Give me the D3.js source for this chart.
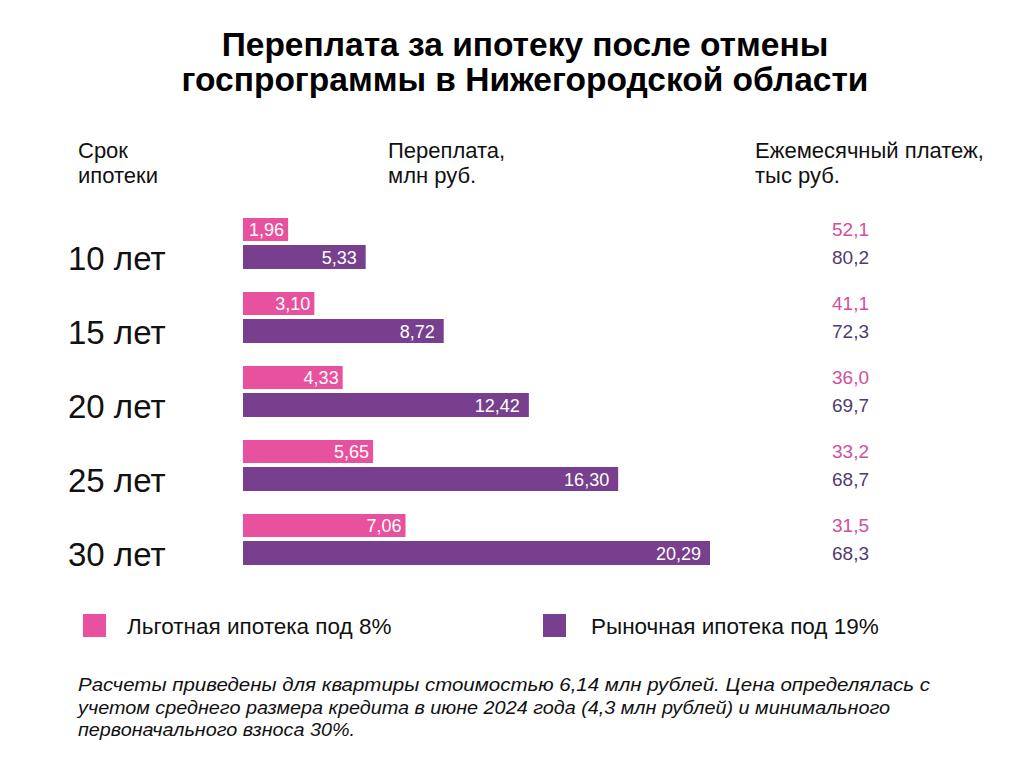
<!DOCTYPE html>
<html>
<head>
<meta charset="utf-8">
<script src="https://cdn.jsdelivr.net/npm/d3@7"></script>
<style>
  body { margin: 0; background: #fff; }
  text { font-family: "Liberation Sans", Arial, sans-serif; }
</style>
</head>
<body>
<div class="chart"></div>
<script>
// data
var terms = ["10 лет", "15 лет", "20 лет", "25 лет", "30 лет"]
var overpayPref = [1.96, 3.10, 4.33, 5.65, 7.06]
var overpayMarket = [5.33, 8.72, 12.42, 16.30, 20.29]
var monthlyPref = ["52,1", "41,1", "36,0", "33,2", "31,5"]
var monthlyMarket = ["80,2", "72,3", "69,7", "68,7", "68,3"]
var seriesNames = ["Льготная ипотека под 8%", "Рыночная ипотека под 19%"]

var pink = "#e8519d", purple = "#773f8e"
var pinkText = "#d0509c", purpleText = "#4f3c6e"

var svg = d3.select(".chart").append("svg")
    .attr("width", 1024).attr("height", 767)

function fmt(v) { return v.toFixed(2).replace(".", ",") }

// title
svg.append("text").attr("x", 525).attr("y", 56).attr("text-anchor", "middle")
    .attr("font-size", 33.5).attr("font-weight", "bold").text("Переплата за ипотеку после отмены")
svg.append("text").attr("x", 525).attr("y", 91).attr("text-anchor", "middle")
    .attr("font-size", 33.5).attr("font-weight", "bold").text("госпрограммы в Нижегородской области")

// column headers
var heads = [
    { x: 78, lines: ["Срок", "ипотеки"] },
    { x: 388, lines: ["Переплата,", "млн руб."] },
    { x: 755, lines: ["Ежемесячный платеж,", "тыс руб."] }
]
heads.forEach(function(h) {
    h.lines.forEach(function(l, i) {
        svg.append("text").attr("x", h.x).attr("y", 158 + i * 25)
            .attr("font-size", 22).attr("fill", "#111").text(l)
    })
})

var x = d3.scaleLinear().domain([0, 20.29]).range([243, 710])
var y = d3.scaleBand().domain(terms).range([214, 584]).paddingInner(0)

var g = svg.selectAll("g.row").data(terms).enter().append("g").attr("class", "row")
    .attr("transform", function(d) { return "translate(0," + y(d) + ")" })

// category labels
g.append("text").attr("x", 68).attr("y", 56).attr("font-size", 33).attr("fill", "#111")
    .text(function(d) { return d })

// pink bars
g.append("rect").attr("x", x(0)).attr("y", 4).attr("height", 23)
    .attr("width", function(d, i) { return x(overpayPref[i]) - x(0) })
    .attr("fill", pink)
g.append("text").attr("x", function(d, i) { return x(overpayPref[i]) - 4 })
    .attr("y", 22).attr("text-anchor", "end").attr("font-size", 18).attr("fill", "#fff")
    .text(function(d, i) { return fmt(overpayPref[i]) })

// purple bars
g.append("rect").attr("x", x(0)).attr("y", 31).attr("height", 24)
    .attr("width", function(d, i) { return x(overpayMarket[i]) - x(0) })
    .attr("fill", purple)
g.append("text").attr("x", function(d, i) { return x(overpayMarket[i]) - 9 })
    .attr("y", 49.5).attr("text-anchor", "end").attr("font-size", 18).attr("fill", "#fff")
    .text(function(d, i) { return fmt(overpayMarket[i]) })

// monthly payment
g.append("text").attr("x", 869).attr("y", 21.5).attr("text-anchor", "end")
    .attr("font-size", 19).attr("fill", pinkText).text(function(d, i) { return monthlyPref[i] })
g.append("text").attr("x", 869).attr("y", 49.5).attr("text-anchor", "end")
    .attr("font-size", 19).attr("fill", purpleText).text(function(d, i) { return monthlyMarket[i] })

// legend
var legend = [{ x: 83, tx: 127, c: pink }, { x: 543, tx: 591, c: purple }]
legend.forEach(function(l, i) {
    svg.append("rect").attr("x", l.x).attr("y", 614).attr("width", 23).attr("height", 23).attr("fill", l.c)
    svg.append("text").attr("x", l.tx).attr("y", 634).attr("font-size", 22.5).attr("fill", "#111").text(seriesNames[i])
})

// footnote
var notes = [
    "Расчеты приведены для квартиры стоимостью 6,14 млн рублей. Цена определялась с",
    "учетом среднего размера кредита в июне 2024 года (4,3 млн рублей) и минимального",
    "первоначального взноса 30%."
]
var noteWidths = [852, 812, 277]
notes.forEach(function(n, i) {
    svg.append("text").attr("x", 78).attr("y", 691 + i * 22.5).attr("font-size", 19)
        .attr("font-style", "italic").attr("fill", "#111")
        .attr("textLength", noteWidths[i]).attr("lengthAdjust", "spacingAndGlyphs").text(n)
})
</script>
</body>
</html>
